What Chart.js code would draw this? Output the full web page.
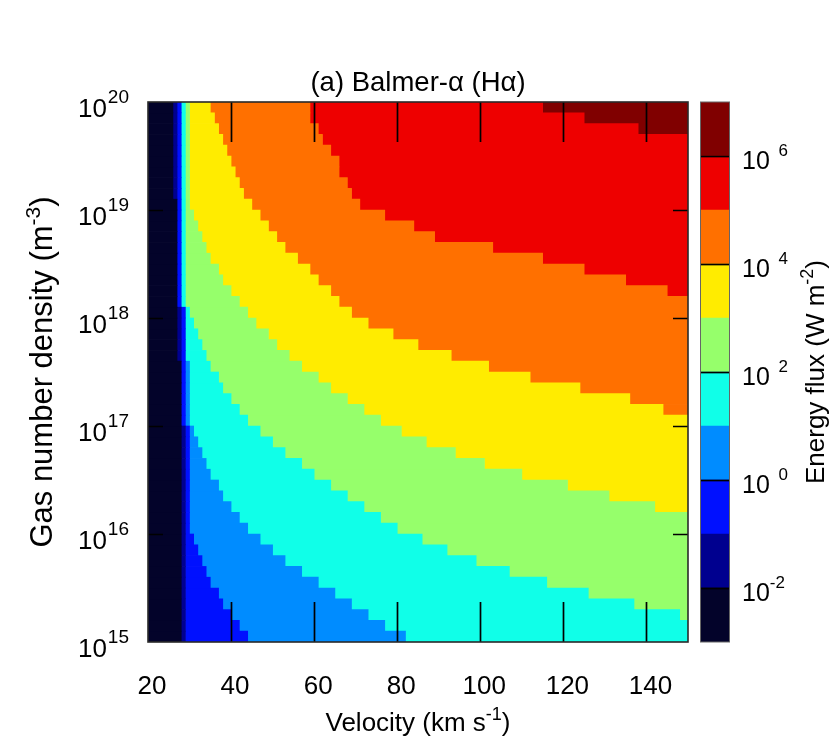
<!DOCTYPE html>
<html>
<head>
<meta charset="utf-8">
<script src="https://cdn.jsdelivr.net/npm/chart.js@4/dist/chart.umd.min.js"></script>
<style>
  html, body { margin: 0; padding: 0; background: #fff; }
  #wrap { position: relative; width: 830px; height: 756px; }
  canvas { position: absolute; top: 0; }
</style>
</head>
<body>
<div id="wrap">
  <canvas id="main" width="830" height="756" style="left:0"></canvas>
  <canvas id="cbar" width="130" height="756" style="left:700px"></canvas>
</div>
<script>
const FONT = '"Liberation Sans", Arial, Helvetica, sans-serif'

// axes
const velocityTicks = [20, 40, 60, 80, 100, 120, 140]
const densityExps = [15, 16, 17, 18, 19, 20]
const fluxExps = [-2, 0, 2, 4, 6]

// density rows (log10 of gas number density, row centres), bottom to top
const rowLogDensity = [
  15.05, 15.15, 15.25, 15.35, 15.45, 15.55, 15.65, 15.75, 15.85, 15.95,
  16.05, 16.15, 16.25, 16.35, 16.45, 16.55, 16.65, 16.75, 16.85, 16.95,
  17.05, 17.15, 17.25, 17.35, 17.45, 17.55, 17.65, 17.75, 17.85, 17.95,
  18.05, 18.15, 18.25, 18.35, 18.45, 18.55, 18.65, 18.75, 18.85, 18.95,
  19.05, 19.15, 19.25, 19.35, 19.45, 19.55, 19.65, 19.75, 19.85, 19.95
]

// velocity (km/s) where the flux passes 10^k W m^-2, for each row (bottom to top)
const vFluxM2 = [
  28, 28, 28, 28, 28, 28, 28, 28, 28, 28,  28, 28, 28, 28, 28, 28, 28, 28, 28, 28,
  28, 28, 28, 28, 28, 28, 27, 27, 27, 27,  27, 27, 27, 27, 27, 27, 27, 27, 27, 27,
  27, 26, 26, 26, 26, 26, 26, 26, 26, 26
]
const vFluxM1 = [
  29, 29, 29, 29, 29, 29, 29, 29, 29, 29,  29, 29, 29, 29, 29, 29, 29, 29, 29, 29,
  28, 28, 28, 28, 28, 28, 28, 28, 28, 28,  28, 27, 27, 27, 27, 27, 27, 27, 27, 27,
  27, 27, 27, 27, 27, 27, 27, 27, 27, 27
]
const vFlux0 = [
  44, 42, 40, 38, 37, 35, 34, 33, 32, 31,  30, 30, 30, 30, 30, 30, 30, 30, 30, 30,
  29, 29, 29, 29, 29, 29, 29, 29, 29, 29,  29, 28, 28, 28, 28, 28, 28, 28, 28, 28,
  28, 28, 28, 28, 28, 28, 28, 28, 28, 28
]
const vFlux1 = [
  82, 77, 73, 69, 65, 61, 57, 53, 50, 47,  44, 42, 40, 38, 37, 35, 34, 33, 32, 31,
  30, 30, 30, 30, 30, 30, 29, 29, 29, 29,  29, 28, 28, 28, 28, 28, 28, 28, 28, 28,
  28, 28, 28, 28, 28, 28, 28, 28, 28, 28
]
const vFlux2 = [
  150, 150, 148, 137, 126, 116, 107, 99, 92, 86,  80, 76, 72, 68, 64, 60, 57, 53, 50, 47,
  44, 42, 40, 38, 37, 35, 34, 33, 32, 31,  30, 29, 29, 29, 29, 29, 29, 29, 29, 29,
  29, 29, 29, 29, 29, 29, 29, 29, 29, 29
]
const vFlux3 = [
  150, 150, 150, 150, 150, 150, 150, 150, 150, 150,  150, 150, 142, 131, 121, 110, 101, 94, 87, 81,
  76, 72, 68, 64, 61, 57, 54, 51, 49, 46,  44, 42, 40, 38, 37, 35, 34, 33, 32, 31,
  30, 30, 30, 30, 30, 30, 30, 30, 30, 30
]
const vFlux4 = [
  150, 150, 150, 150, 150, 150, 150, 150, 150, 150,  150, 150, 150, 150, 150, 150, 150, 150, 150, 150,
  150, 144, 136, 124, 112, 102, 93, 85, 79, 73,  69, 66, 64, 61, 59, 56, 53, 51, 49, 47,
  45, 43, 42, 41, 40, 39, 38, 37, 36, 35
]
const vFlux5 = [
  150, 150, 150, 150, 150, 150, 150, 150, 150, 150,  150, 150, 150, 150, 150, 150, 150, 150, 150, 150,
  150, 150, 150, 150, 150, 150, 150, 150, 150, 150,  150, 150, 145, 135, 125, 115, 103, 89, 84, 77,
  71, 69, 68, 66, 66, 64, 62, 61, 59, 59
]
const vFlux6 = [
  150, 150, 150, 150, 150, 150, 150, 150, 150, 150,  150, 150, 150, 150, 150, 150, 150, 150, 150, 150,
  150, 150, 150, 150, 150, 150, 150, 150, 150, 150,  150, 150, 150, 150, 150, 150, 150, 150, 150, 150,
  150, 150, 150, 150, 150, 150, 150, 138, 125, 115
]

// one colour per decade of flux, 10^-3 .. 10^7
const fluxLevels = [-3, -2, -1, 0, 1, 2, 3, 4, 5, 6]
const levelColors = [
  '#03032a', '#00008f', '#0010ff', '#008cff', '#10ffe8',
  '#96ff6b', '#ffec00', '#ff7000', '#ee0000', '#800000'
]

const vMin = 20, vMax = 150

// -------- text helpers
const fontOf = size => size + 'px ' + FONT

// parts: [[text, isSuperscript], ...]
const richWidth = (ctx, parts, size, supSize) => {
  let w = 0
  parts.forEach(([t, sup]) => {
    ctx.font = fontOf(sup ? supSize : size)
    w += ctx.measureText(t).width
  })
  return w
}

const drawRich = (ctx, parts, x, y, size, supSize, rise, align) => {
  const w = richWidth(ctx, parts, size, supSize)
  let cx = align === 'right' ? x - w : align === 'center' ? x - w / 2 : x
  ctx.textAlign = 'left'
  ctx.textBaseline = 'alphabetic'
  ctx.fillStyle = '#000'
  parts.forEach(([t, sup]) => {
    ctx.font = fontOf(sup ? supSize : size)
    ctx.fillText(t, cx, sup ? y - rise : y)
    cx += ctx.measureText(t).width
  })
}

// -------- main heat map
const edges = [vFluxM2, vFluxM1, vFlux0, vFlux1, vFlux2, vFlux3, vFlux4, vFlux5, vFlux6]

const datasets = fluxLevels.map((lvl, k) => {
  const data = []
  rowLogDensity.forEach((yv, r) => {
    const from = k === 0 ? vMin : edges[k - 1][r]
    const to = k === edges.length ? vMax : edges[k][r]
    if (to > from) data.push({ y: yv, x: [from, to] })
  })
  return {
    label: '10^' + lvl,
    data: data,
    backgroundColor: levelColors[k],
    borderWidth: 0
  }
})

const mainDecor = {
  id: 'mainDecor',
  afterDatasetsDraw(chart) {
    const { ctx, chartArea: a, scales: { x, y } } = chart
    ctx.save()

    // inward ticks
    ctx.strokeStyle = '#000'
    ctx.lineWidth = 1.7
    velocityTicks.forEach(v => {
      if (v === vMin) return
      const px = Math.round(x.getPixelForValue(v)) + 0.5
      ctx.beginPath()
      ctx.moveTo(px, a.bottom); ctx.lineTo(px, a.bottom - 40)
      ctx.moveTo(px, a.top); ctx.lineTo(px, a.top + 40)
      ctx.stroke()
    })
    densityExps.forEach(e => {
      if (e === 15 || e === 20) return
      const py = Math.round(y.getPixelForValue(e)) + 0.5
      ctx.beginPath()
      ctx.moveTo(a.left, py); ctx.lineTo(a.left + 15, py)
      ctx.moveTo(a.right, py); ctx.lineTo(a.right - 15, py)
      ctx.stroke()
    })

    // frame
    ctx.strokeStyle = '#2a2a2a'
    ctx.lineWidth = 1.6
    ctx.strokeRect(a.left, a.top, a.right - a.left, a.bottom - a.top)

    // x tick labels
    ctx.fillStyle = '#000'
    ctx.font = fontOf(26)
    ctx.textAlign = 'center'
    ctx.textBaseline = 'alphabetic'
    velocityTicks.forEach(v => {
      ctx.fillText(String(v), x.getPixelForValue(v) + 4, a.bottom + 52)
    })

    // y tick labels 10^e
    densityExps.forEach(e => {
      const py = y.getPixelForValue(e)
      ctx.font = fontOf(19)
      const we = ctx.measureText(String(e)).width
      ctx.font = fontOf(26)
      const wb = ctx.measureText('10').width
      const x0 = 128 - we - wb
      ctx.textAlign = 'left'
      ctx.fillText('10', x0, py + 15)
      ctx.font = fontOf(19)
      ctx.fillText(String(e), x0 + wb + 1, py + 1)
    })

    // title
    drawRich(ctx, [['(a) Balmer-\u03b1 (H\u03b1)', false]], (a.left + a.right) / 2, 91, 27.5, 18, 0, 'center')

    // x axis title
    drawRich(ctx, [['Velocity (km s', false], ['-1', true], [')', false]],
      (a.left + a.right) / 2, 731, 26, 18, 11, 'center')

    // y axis title
    ctx.translate(52, (a.top + a.bottom) / 2)
    ctx.rotate(-Math.PI / 2)
    drawRich(ctx, [['Gas number density (m', false], ['-3', true], [')', false]],
      0, 0, 31, 21, 12, 'center')

    ctx.restore()
  }
}

new Chart(document.getElementById('main'), {
  type: 'bar',
  data: { datasets: datasets },
  options: {
    responsive: false,
    animation: false,
    indexAxis: 'y',
    layout: { padding: { top: 102, right: 142, left: 0, bottom: 0 } },
    plugins: { legend: { display: false }, tooltip: { enabled: false } },
    datasets: { bar: { grouped: false, categoryPercentage: 1, barPercentage: 1 } },
    scales: {
      x: {
        type: 'linear', min: vMin, max: vMax,
        grid: { display: false }, border: { display: false },
        ticks: { display: false },
        afterFit: s => { s.height = 114 }
      },
      y: {
        type: 'linear', min: 15, max: 20, offset: false,
        grid: { display: false, offset: false }, border: { display: false },
        ticks: { display: false },
        afterFit: s => { s.width = 148 }
      }
    }
  },
  plugins: [mainDecor]
})

// -------- colour bar
const cbarDecor = {
  id: 'cbarDecor',
  afterDatasetsDraw(chart) {
    const { ctx, chartArea: a, scales: { y } } = chart
    ctx.save()
    ctx.strokeStyle = '#000'
    ctx.lineWidth = 1.7
    fluxExps.forEach(e => {
      const py = Math.round(y.getPixelForValue(e)) + 0.5
      ctx.beginPath()
      ctx.moveTo(a.left, py); ctx.lineTo(a.right, py)
      ctx.stroke()
    })
    ctx.strokeStyle = '#666'
    ctx.lineWidth = 1
    ctx.strokeRect(a.left - 0.5, a.top, a.right - a.left + 1, a.bottom - a.top)

    // labels 10^e, exponent digits aligned as if a sign were present
    ctx.fillStyle = '#000'
    fluxExps.forEach(e => {
      const py = y.getPixelForValue(e)
      const x0 = 42
      ctx.font = fontOf(25)
      ctx.textAlign = 'left'
      ctx.textBaseline = 'alphabetic'
      ctx.fillText('10', x0, py + 13)
      const wb = ctx.measureText('10').width
      ctx.font = fontOf(17)
      const wm = ctx.measureText('-').width
      const s = String(Math.abs(e))
      if (e < 0) ctx.fillText('-' + s, x0 + wb, py)
      else ctx.fillText(s, x0 + wb + wm + 3, py)
    })

    ctx.translate(124, (a.top + a.bottom) / 2)
    ctx.rotate(-Math.PI / 2)
    drawRich(ctx, [['Energy flux (W m', false], ['-2', true], [')', false]],
      0, 0, 26, 18, 11, 'center')
    ctx.restore()
  }
}

new Chart(document.getElementById('cbar'), {
  type: 'bar',
  data: {
    labels: ['flux'],
    datasets: fluxLevels.map((lvl, k) => ({
      label: '10^' + lvl,
      data: [[lvl, lvl + 1]],
      backgroundColor: levelColors[k],
      borderWidth: 0
    }))
  },
  options: {
    responsive: false,
    animation: false,
    layout: { padding: { top: 102, bottom: 114, left: 1, right: 101 } },
    plugins: { legend: { display: false }, tooltip: { enabled: false } },
    datasets: { bar: { grouped: false, categoryPercentage: 1, barPercentage: 1 } },
    scales: {
      x: { display: false },
      y: { display: false, type: 'linear', min: -3, max: 7 }
    }
  },
  plugins: [cbarDecor]
})
</script>
</body>
</html>
